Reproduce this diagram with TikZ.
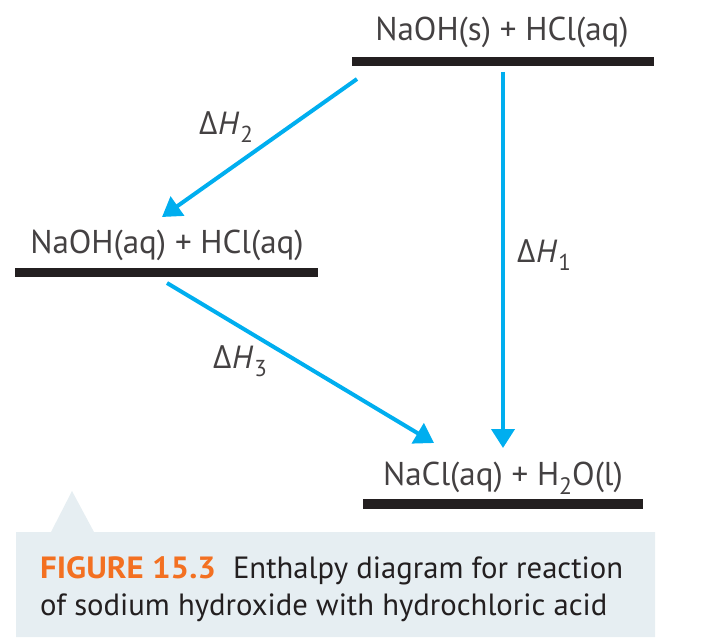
\documentclass[tikz,border=0pt]{standalone}
\usepackage{fontspec}
\usepackage{graphicx}
\setmainfont{PT Sans}
\newfontfamily\grk{Open Sans}
\usetikzlibrary{arrows.meta}
\definecolor{cyanarr}{HTML}{00AEEF}
\definecolor{barblack}{HTML}{231F20}
\definecolor{capbg}{HTML}{E6EEF2}
\definecolor{figorange}{HTML}{F37021}
\newcommand\sbs[1]{\raisebox{-0.28em}{\scalebox{0.72}{#1}}}
\newcommand\dH[1]{{\grk\symbol{"0394}}\hspace{0.02em}\textit{H}\hspace{0.03em}\sbs{#1}}
\tikzset{
  lbl/.style={font=\fontsize{33}{39}\selectfont, text=barblack!85, inner sep=0pt, anchor=base},
  dlbl/.style={font=\fontsize{32}{38}\selectfont, text=barblack!85, inner sep=0pt, anchor=base west},
  bar/.style={fill=barblack, inner sep=0pt, minimum height=9.5pt},
  arr/.style={draw=cyanarr, line width=4pt, -{Triangle[width=23pt,length=19pt]}},
  captxt/.style={font=\fontsize{30.7}{37}\selectfont, text=barblack, inner sep=0pt, anchor=base west}
}
\begin{document}
\begin{tikzpicture}[x=1pt,y=-1pt]
\useasboundingbox (0,0) rectangle (707,642);
% caption background with pointer
\fill[capbg] (16,532) -- (51,532) -- (72,491) -- (94,532) -- (655,532) -- (655,637) -- (16,637) -- cycle;
% levels
\node[bar, minimum width=302pt] (b1) at (503,61.5) {};
\node[bar, minimum width=303pt] (b2) at (166.5,272.5) {};
\node[bar, minimum width=280pt] (b3) at (503,504) {};
\node[lbl] (t1) at (502,41) {NaOH(s) + HCl(aq)};
\node[lbl] (t2) at (167,253) {NaOH(aq) + HCl(aq)};
\node[lbl] (t3) at (503,485) {NaCl(aq) + H\sbs{2}O(l)};
% arrows
\coordinate (a1s) at (503,72);
\coordinate (a1e) at (503,448);
\coordinate (a2s) at (357,79);
\coordinate (a2e) at (162,217);
\coordinate (a3s) at (167,283);
\coordinate (a3e) at (434,443);
\draw[arr] (a1s) -- (a1e);
\draw[arr] (a2s) -- (a2e);
\draw[arr] (a3s) -- (a3e);
% labels
\node[dlbl] (l1) at (517,262) {\dH{1}};
\node[dlbl] (l2) at (199,134) {\dH{2}};
\node[dlbl] (l3) at (213,368) {\dH{3}};
% caption
\node[captxt] (c1) at (40,578) {{\color{figorange}\bfseries\scalebox{1.07}[1]{FIGURE 15.3}}\hspace{17pt}Enthalpy diagram for reaction};
\node[captxt] (c2) at (40,615) {of sodium hydroxide with hydrochloric acid};
\end{tikzpicture}
\end{document}
